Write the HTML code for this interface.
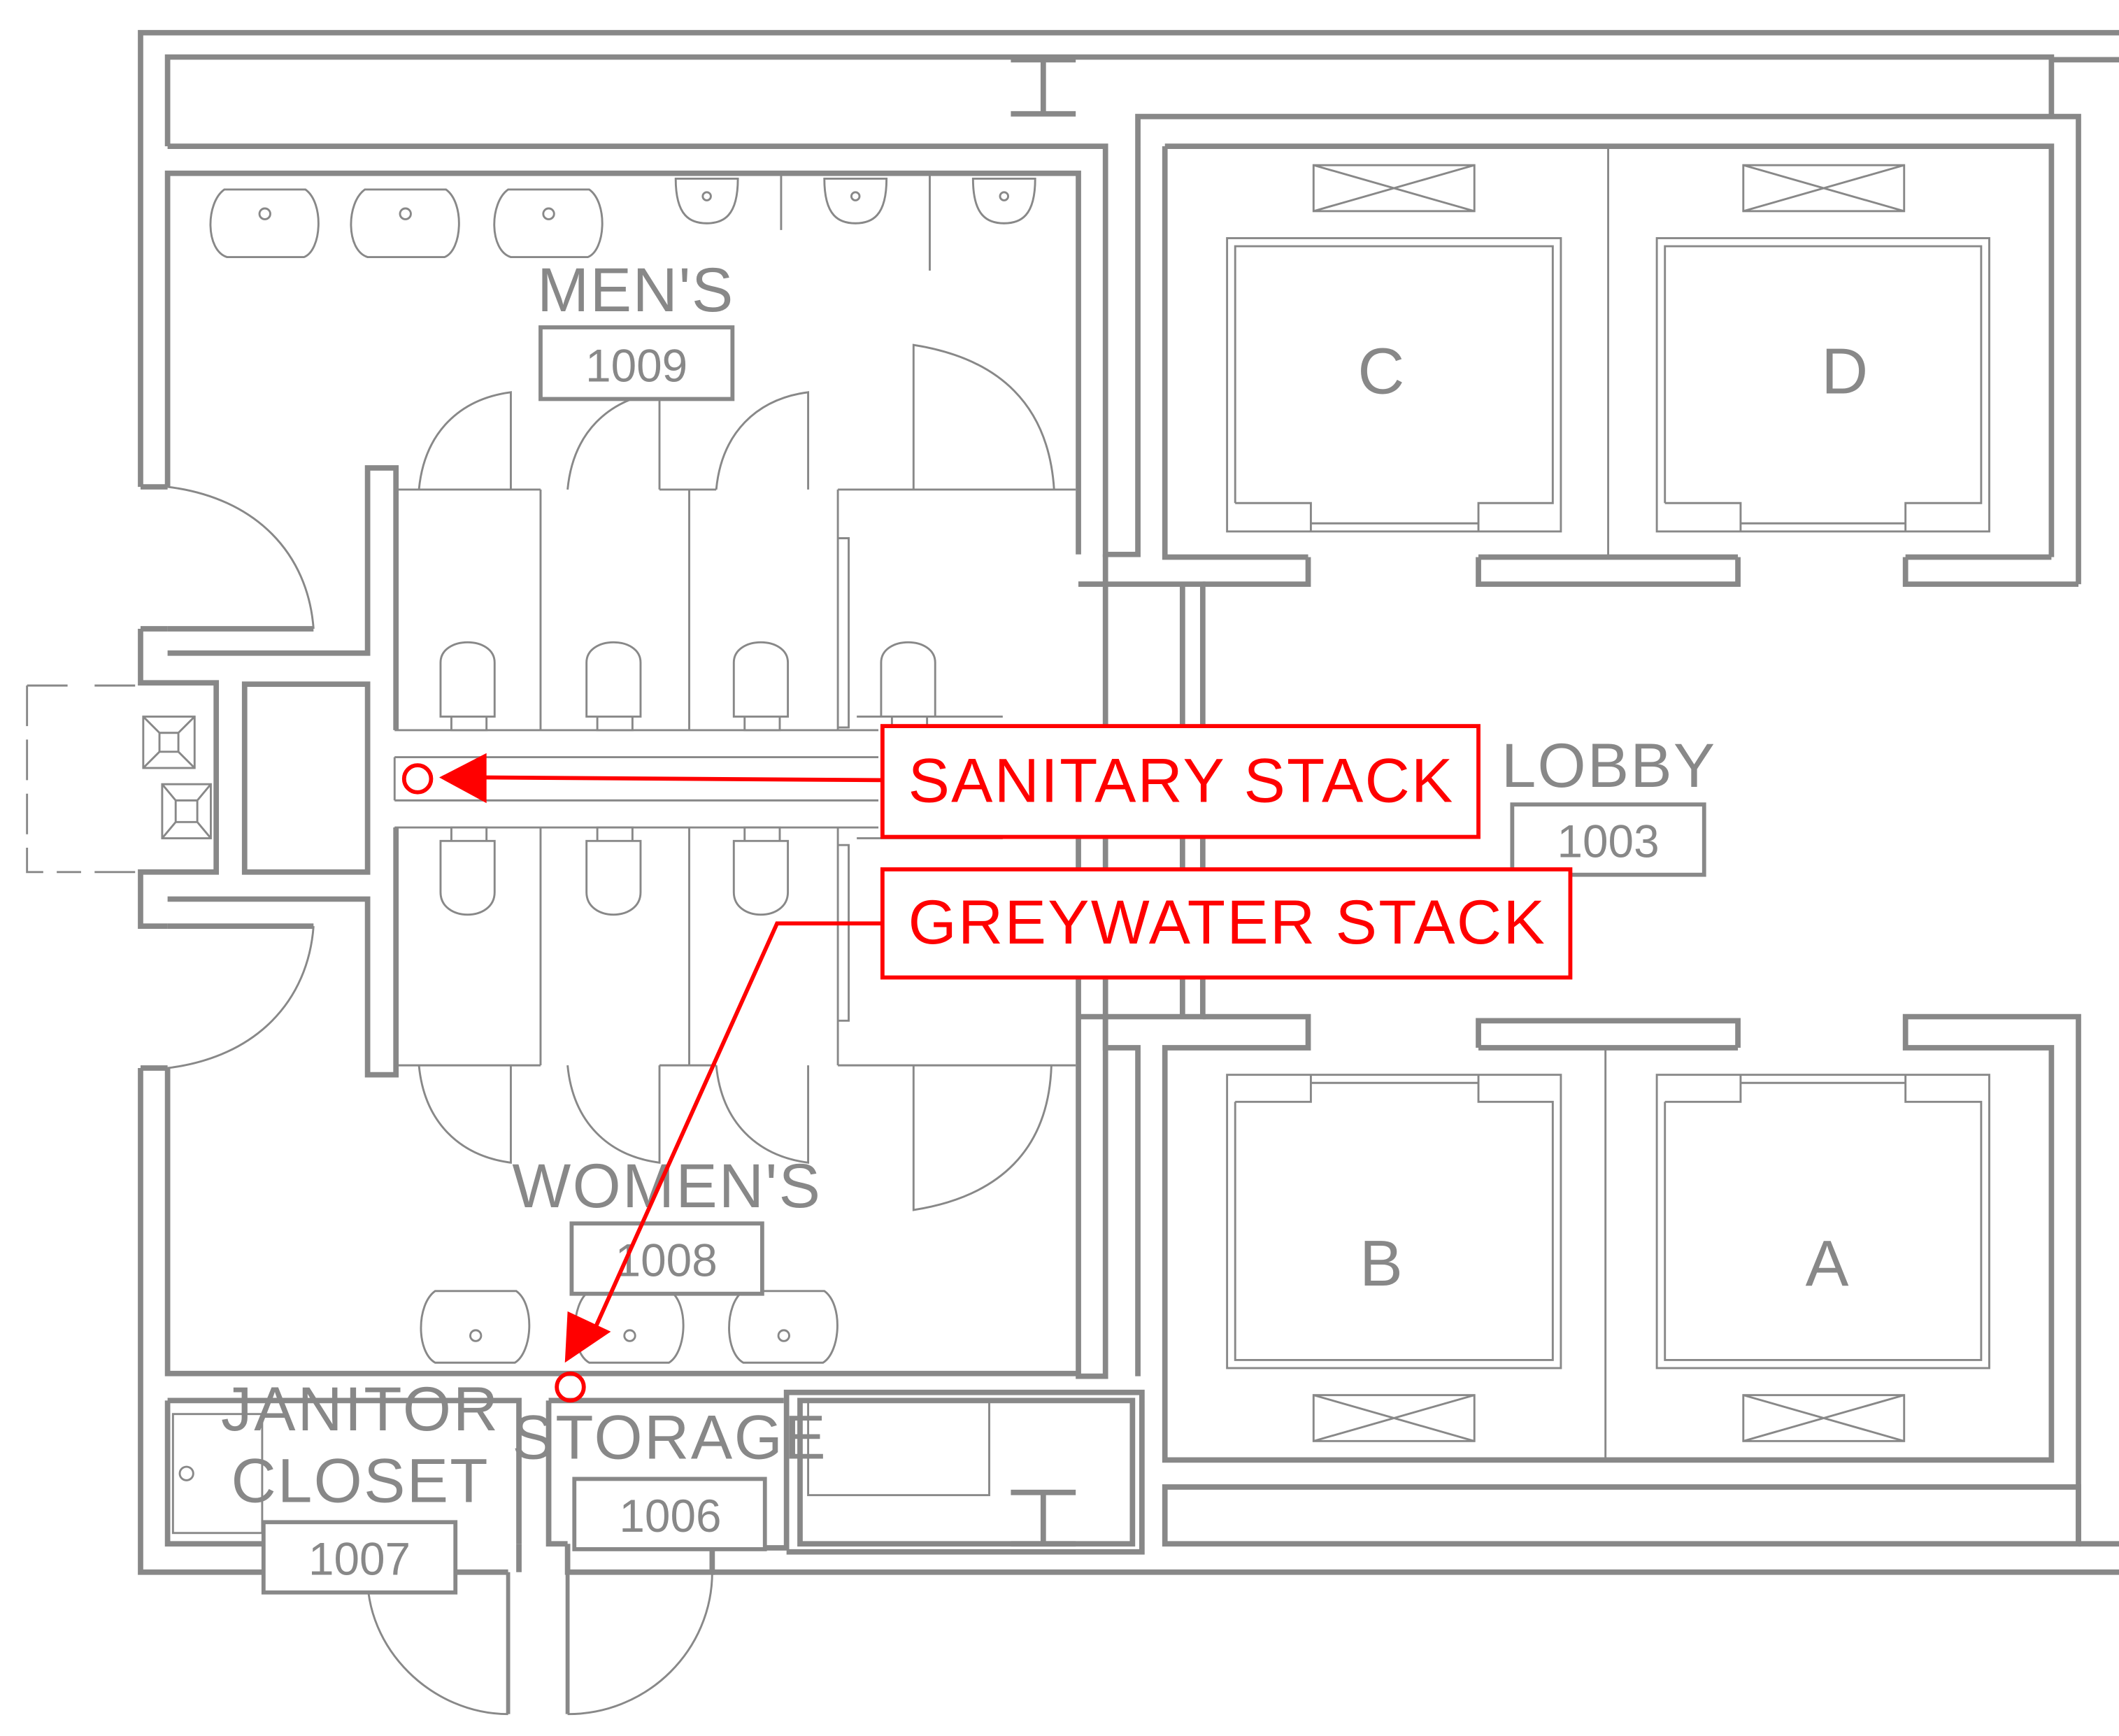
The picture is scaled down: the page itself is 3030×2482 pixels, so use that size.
<!DOCTYPE html>
<html><head><style>html,body{margin:0;padding:0;background:#fff}svg{display:block}</style></head>
<body>
<svg width="3030" height="2482" viewBox="0 0 1568 1284" xmlns="http://www.w3.org/2000/svg">
<g fill="none" stroke="#888" stroke-width="4" stroke-linejoin="miter">
<path d="M104,360 V24 H1568"/>
<path d="M124,108 V42 H1518 V86"/>
<path d="M1518,44 H1568"/>
<path d="M124,108 H818 V410 H842 V86 H1538 V432"/>
<path d="M748,44 H796 M772,44 V84 M748,84 H796"/>
<path d="M124,360 V128 H798 V410"/>
<path d="M104,360 H124"/>
<path d="M104,465 H124 M104,465 V505 H160 V645 H104 V685 H124"/>
<path d="M124,465 H232 M124,483 H272 V346 H293 V540"/>
<path d="M124,685 H232 M124,665 H272 V795 H293 V612"/>
<rect x="181" y="506" width="91" height="139"/>
<path d="M104,790 V1163 H376 M124,790 V1016 H798"/>
<path d="M104,790 H124"/>
<path d="M798,612 V1018 H818 V432 H798 M818,410 V432"/>
<path d="M798,432 H875 V752 H798 M818,752 V775 H842 V1018 M875,432 H890 V752 H875"/>
<path d="M890,432 H968 V412 M862,108 H1518 V412 M862,108 V412 H968"/>
<path d="M1094,412 V432 H1286 V412 M1094,412 H1286 M1410,412 V432 H1538 M1410,412 H1518"/>
<path d="M890,752 H968 V775 H862 V1080 H1518 V775 H1410 V752 H1538 V1100 M1094,775 V755 H1286 V775 M1094,775 H1286"/>
<path d="M862,1100 H1538 V1142 H862 Z"/>
<path d="M1538,1142 H1568 M1538,1100 V1142"/>
<path d="M527,1163 H1568 M527,1145 H582 V1030 H845 V1148 H582 M592,1036 H838 V1142 H592 Z"/>
<path d="M748,1104 H796 M772,1104 V1142 M748,1142 H796"/>
<path d="M124,1036 H384 V1142 M124,1036 V1142 H195"/>
<path d="M406,1036 H580 M406,1036 V1142 H420 M384,1142 V1163 M420,1142 V1163 H527 V1145"/>
<path d="M376,1163 V1268 M420,1163 V1268" stroke-width="3"/>
</g>
<g fill="none" stroke="#888" stroke-width="1.5">
<path d="M124,360 C190,368 228,410 232,465"/>
<path d="M124,790 C190,782 228,740 232,685"/>
<path d="M272,1163 C270,1220 320,1268 376,1268"/>
<path d="M527,1163 C527,1220 480,1268 420,1268"/>
<path d="M310,362 C314,320 340,295 378,290 V362 M400,362 V540"/>
<path d="M420,362 C424,320 450,295 488,290 V362 M510,362 V540"/>
<path d="M530,362 C534,320 560,295 598,290 V362 M620,362 V540"/>
<path d="M780,362 C776,300 740,265 676,255 V362 M620,362 H796"/>
<path d="M293,362 H400 M488,362 H530"/>
<path d="M310,788 C314,830 340,855 378,860 V788 M400,788 V612"/>
<path d="M420,788 C424,830 450,855 488,860 V788 M510,788 V612"/>
<path d="M530,788 C534,830 560,855 598,860 V788 M620,788 V612"/>
<path d="M778,788 C776,850 740,885 676,895 V788 M620,788 H796"/>
<path d="M293,788 H400 M488,788 H530"/>
<path d="M292,540 H650 M292,560 H650 M292,592 H650 M292,612 H650 M292,560 V592"/>
<path d="M620,398 h8 v140 h-8 M620,625 h8 v130 h-8 M634,530 h108 M634,620 h108"/>
<g id="t"><path d="M326,530 V490 C326,470 366,470 366,490 V530 Z M334,530 V540 H360 V530"/></g>
<use href="#t" x="108"/><use href="#t" x="217"/><use href="#t" x="326"/>
<g id="t2"><path d="M326,622 V660 C326,682 366,682 366,660 V622 Z M334,622 V612 H360 V622"/></g>
<use href="#t2" x="108"/><use href="#t2" x="217"/>
<g id="s"><path d="M166,140 H226 C240,150 238,185 225,190 H168 C152,185 152,150 166,140 Z"/><circle cx="196" cy="158" r="4"/></g>
<use href="#s" x="104"/><use href="#s" x="210"/>
<g id="u"><path d="M500,132 H546 C546,160 535,165 523,165 C511,165 500,160 500,132 Z"/><circle cx="523" cy="145" r="3"/></g>
<use href="#u" x="110"/><use href="#u" x="220"/>
<path d="M578,128 V170 M688,128 V200"/>
<g id="w"><path d="M322,955 H382 C396,965 394,1000 381,1008 H322 C308,1000 308,965 322,955 Z"/><circle cx="352" cy="988" r="4"/></g>
<use href="#w" x="114"/><use href="#w" x="228"/>
<path d="M20,507 H60 M20,507 V645 H60 M70,507 H100 M70,645 H100" stroke-dasharray="30,10"/>
<rect x="106" y="530" width="38" height="38"/><rect x="120" y="580" width="36" height="40"/>
<path d="M106,530 L118,542 M144,530 L132,542 M106,568 L118,556 M144,568 L132,556 M118,542 H132 V556 H118 Z"/>
<path d="M120,580 L130,592 M156,580 L146,592 M120,620 L130,608 M156,620 L146,608 M130,592 H146 V608 H130 Z"/>
<rect x="128" y="1046" width="66" height="88"/><circle cx="138" cy="1090" r="5"/>
<rect x="598" y="1036" width="134" height="70"/>
<rect x="908" y="176" width="247" height="217"/><path d="M914,372 V182 H1149 V372 H1094 V393 M914,372 H970 V393 M970,387 H1094"/>
<rect x="1226" y="176" width="246" height="217"/><path d="M1232,372 V182 H1466 V372 H1410 V393 M1232,372 H1288 V393 M1288,387 H1410"/>
<rect x="908" y="795" width="247" height="217"/><path d="M914,815 V1006 H1149 V815 H1094 V795 M914,815 H970 V795 M970,801 H1094"/>
<rect x="1226" y="795" width="246" height="217"/><path d="M1232,815 V1006 H1466 V815 H1410 V795 M1232,815 H1288 V795 M1288,801 H1410"/>
<path d="M1190,108 V412 M1188,775 V1080"/>
<g id="x"><rect x="972" y="122" width="119" height="34"/><path d="M972,122 L1091,156 M972,156 L1091,122"/></g>
<use href="#x" x="318"/><use href="#x" y="910"/><use href="#x" x="318" y="910"/>
</g>
<g fill="#fff" stroke="#888" stroke-width="3">
<rect x="400" y="242" width="142" height="53"/>
<rect x="1119" y="595" width="142" height="52"/>
<rect x="423" y="905" width="141" height="52"/>
<rect x="195" y="1126" width="142" height="52"/>
<rect x="425" y="1094" width="141" height="52"/>
</g>
<g font-family="Liberation Sans, sans-serif" fill="#888" text-anchor="middle">
<text x="470" y="230" font-size="46" textLength="145">MEN'S</text>
<text x="471" y="282" font-size="34">1009</text>
<text x="1190" y="582" font-size="46" textLength="158">LOBBY</text>
<text x="1190" y="634" font-size="34">1003</text>
<text x="493" y="893" font-size="46" textLength="228">WOMEN'S</text>
<text x="493" y="944" font-size="34">1008</text>
<text x="266" y="1058" font-size="46" textLength="205">JANITOR</text>
<text x="266" y="1111" font-size="46" textLength="190">CLOSET</text>
<text x="266" y="1165" font-size="34">1007</text>
<text x="495" y="1079" font-size="46" textLength="232">STORAGE</text>
<text x="496" y="1133" font-size="34">1006</text>
<text x="1022" y="291" font-size="48">C</text>
<text x="1365" y="291" font-size="48">D</text>
<text x="1022" y="951" font-size="48">B</text>
<text x="1352" y="951" font-size="48">A</text>
</g>
<g stroke="#f00" stroke-width="3" fill="none">
<rect x="653" y="537" width="441" height="82" fill="#fff"/>
<rect x="653" y="643" width="509" height="80" fill="#fff"/>
<path d="M653,577 L358,575"/>
<path d="M653,683 H575 L437,990"/>
<circle cx="309" cy="576" r="10"/>
<circle cx="422" cy="1026" r="10"/>
</g>
<g fill="#f00">
<path d="M325,575 L360,557 L360,594 Z"/>
<path d="M418,1008 L420,970 L452,985 Z"/>
</g>
<g font-family="Liberation Sans, sans-serif" fill="#f00" font-size="46">
<text x="672" y="593" textLength="403">SANITARY STACK</text>
<text x="672" y="698" textLength="471">GREYWATER STACK</text>
</g>
</svg>
</body></html>
